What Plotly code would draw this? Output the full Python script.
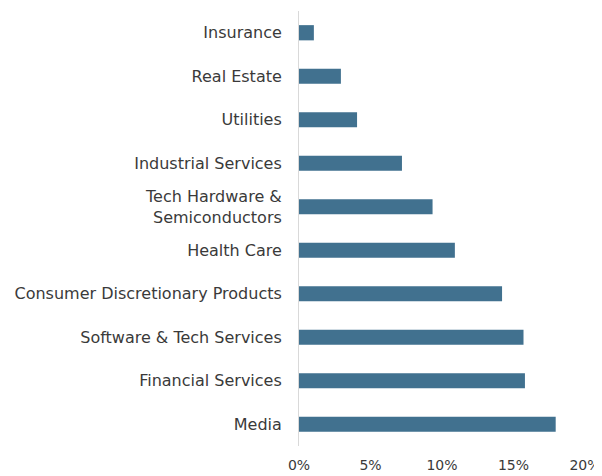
import plotly.graph_objects as go

categories = ["Insurance", "Real Estate", "Utilities", "Industrial Services",
              "Tech Hardware &<br>Semiconductors", "Health Care",
              "Consumer Discretionary Products", "Software & Tech Services",
              "Financial Services", "Media"]
values = [1.04, 2.93, 4.06, 7.2, 9.34, 10.9, 14.2, 15.7, 15.8, 17.95]
tick_vals = [0, 5, 10, 15, 20]
tick_text = ["0%", "5%", "10%", "15%", "20%"]

fig = go.Figure(go.Bar(
    y=categories, x=values, orientation="h",
    marker=dict(color="#41718F", line=dict(width=0)),
))

fig.update_layout(
    width=594, height=468,
    margin=dict(l=291, r=17, t=3, b=30),
    paper_bgcolor="white", plot_bgcolor="white",
    bargap=0.65,
    showlegend=False,
    font=dict(family="DejaVu Sans, sans-serif", size=16, color="#3A3A3A"),
)
fig.update_yaxes(
    autorange="reversed", showgrid=False, ticks="", ticklabelstandoff=13,
    showline=True, linecolor="#D9D9D9", linewidth=1, automargin=False,
)
fig.update_xaxes(
    range=[0, 20], tickvals=tick_vals, ticktext=tick_text,
    tickfont=dict(size=14), ticklabeloverflow="allow", ticklabelstandoff=9,
    showgrid=False, zeroline=False, showline=False, ticks="", automargin=False,
)

fig.write_html("out.html")
